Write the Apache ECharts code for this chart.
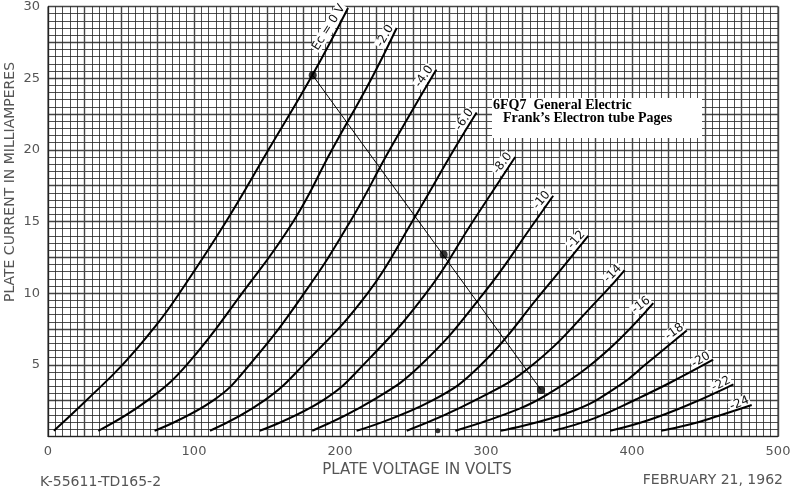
<!DOCTYPE html>
<html><head><meta charset="utf-8">
<script src="https://cdn.jsdelivr.net/npm/echarts@6/dist/echarts.min.js"></script>
<style>html,body{margin:0;padding:0;background:#fff}#c{width:796px;height:490px}</style>
</head><body><div id="c"></div>
<script>
// Tick labels
const xTicks = [0, 100, 200, 300, 400, 500];
const yTicks = [5, 10, 15, 20, 25, 30];
// Grid-voltage curve names
const curveNames = ['Ec = 0 V','-2.0','-4.0','-6.0','-8.0','-10','-12','-14','-16','-18','-20','-22','-24'];
// Plate voltage (V) / plate current (mA) per curve
const v0   = [4, 26, 51, 74, 90, 122, 151, 181, 205.5];
const i0   = [0.4, 2.5, 5, 7.75, 10, 15, 20, 25.2, 29.9];
const v2   = [34.5, 68, 95, 133, 168, 194.5, 221.7, 238.8];
const i2   = [0.4, 2.5, 5, 10, 15, 20, 25, 28.5];
const v4   = [73, 113, 138, 175.5, 207, 234, 266];
const i4   = [0.4, 2.5, 5, 10, 15, 20, 25.6];
const v6   = [111, 148, 175, 219, 249.5, 278, 293.6];
const i6   = [0.4, 2.5, 5, 10, 15, 20, 22.6];
const v8   = [145, 188, 216, 259, 291, 320];
const i8   = [0.4, 2.5, 5, 10, 15, 19.5];
const v10  = [181, 222, 255.5, 298.5, 333.6, 346];
const i10  = [0.4, 2.5, 5, 10, 15, 16.8];
const v12  = [211.4, 263, 296.6, 338, 370];
const i12  = [0.4, 2.5, 5, 10, 14];
const v14  = [245.7, 292, 332, 381, 395];
const i14  = [0.4, 2.5, 5, 10, 11.6];
const v16  = [279, 323, 346, 369, 392, 414.6];
const i16  = [0.4, 1.94, 3.18, 4.78, 6.84, 9.3];
const v18  = [310, 360, 392, 409, 437.5];
const i18  = [0.4, 1.8, 3.6, 5, 7.4];
const v20  = [346, 375, 403, 426, 455.6];
const i20  = [0.4, 1.3, 2.6, 3.75, 5.36];
const v22  = [385, 410, 437.5, 469.5];
const i22  = [0.4, 1.1, 2.16, 3.64];
const v24  = [420, 440, 460, 482];
const i24  = [0.4, 0.85, 1.47, 2.2];
// Load line and operating points
const loadV = [181.3, 337.7];
const loadI = [25.2, 3.25];
const dotV  = [181.3, 271, 337.7];
const dotI  = [25.2, 12.7, 3.25];
const smallDotV = [267];
const smallDotI = [0.4];

const curvesV = [v0,v2,v4,v6,v8,v10,v12,v14,v16,v18,v20,v22,v24];
const curvesI = [i0,i2,i4,i6,i8,i10,i12,i14,i16,i18,i20,i22,i24];
const labelRot = [58, 60, 55, 55, 52, 50, 48, 45, 38, 35, 30, 27, 22];
const zip = (a, b) => a.map((x, k) => [x, b[k]]);

const series = curvesV.map((vs, k) => {
  const data = zip(vs, curvesI[k]);
  return {
    type: 'line', name: curveNames[k], data, smooth: 0.45,
    symbol: 'none', lineStyle: {color: '#000', width: 2}, z: 5,
    markPoint: {
      symbol: 'circle', symbolSize: 0, silent: true,
      data: [{coord: data[data.length - 1]}],
      label: {
        show: true, formatter: curveNames[k], position: 'inside',
        align: 'right', verticalAlign: 'bottom', rotate: labelRot[k],
        fontFamily: 'DejaVu Sans', fontSize: 12, color: '#111',
        backgroundColor: '#fff', padding: [0, 1, 0, 1]
      }
    }
  };
});
series.push({
  type: 'line', data: zip(loadV, loadI), symbol: 'none',
  lineStyle: {color: '#000', width: 1}, z: 6
});
series.push({
  type: 'scatter', data: zip(dotV, dotI), symbolSize: 8,
  itemStyle: {color: '#000'}, z: 7
});
series.push({
  type: 'scatter', data: zip(smallDotV, smallDotI), symbolSize: 5,
  itemStyle: {color: '#000'}, z: 7
});

const chart = echarts.init(document.getElementById('c'), null, {renderer: 'canvas'});
chart.setOption({
  animation: false,
  backgroundColor: '#fff',
  grid: {left: 48, right: 18, top: -2, bottom: 53.5, show: true, borderColor: '#222', borderWidth: 1},
  xAxis: {
    type: 'value', min: 0, max: 500, interval: 25,
    axisLine: {show: true, lineStyle: {color: '#222', width: 1}},
    axisTick: {show: false},
    minorTick: {show: true, splitNumber: 5, length: 0},
    axisLabel: {
      formatter: v => xTicks.includes(v) ? String(v) : '',
      color: '#555', fontFamily: 'DejaVu Sans', fontSize: 13, margin: 9
    },
    splitLine: {show: true, lineStyle: {color: '#444', width: 1.4}},
    minorSplitLine: {show: true, lineStyle: {color: '#222', width: 0.8}}
  },
  yAxis: {
    type: 'value', min: 0, max: 30, interval: 2.5,
    axisLine: {show: true, lineStyle: {color: '#222', width: 1}},
    axisTick: {show: false},
    minorTick: {show: true, splitNumber: 5, length: 0},
    axisLabel: {
      formatter: v => yTicks.includes(v) ? String(v) : '',
      color: '#555', fontFamily: 'DejaVu Sans', fontSize: 13, margin: 8
    },
    splitLine: {show: true, lineStyle: {color: '#444', width: 1.4}},
    minorSplitLine: {show: true, lineStyle: {color: '#222', width: 0.8}}
  },
  series,
  graphic: [
    {type: 'text', x: 10, y: 182, rotation: Math.PI / 2, z: 10,
     style: {text: 'PLATE CURRENT IN MILLIAMPERES', fontFamily: 'DejaVu Sans', fontSize: 14, fill: '#555', align: 'center', verticalAlign: 'middle'}},
    {type: 'text', x: 417, y: 470, z: 10,
     style: {text: 'PLATE VOLTAGE IN VOLTS', fontFamily: 'DejaVu Sans', fontSize: 15, fill: '#555', align: 'center', verticalAlign: 'middle'}},
    {type: 'text', x: 40, y: 482, z: 10,
     style: {text: 'K-55611-TD165-2', fontFamily: 'DejaVu Sans', fontSize: 14, fill: '#555', align: 'left', verticalAlign: 'middle'}},
    {type: 'text', x: 783, y: 480, z: 10,
     style: {text: 'FEBRUARY 21, 1962', fontFamily: 'DejaVu Sans', fontSize: 14, fill: '#555', align: 'right', verticalAlign: 'middle'}},
    {type: 'rect', z: 10, shape: {x: 492, y: 98, width: 210, height: 40}, style: {fill: '#fff'}},
    {type: 'text', x: 493, y: 105, z: 11,
     style: {text: '6FQ7  General Electric', fontFamily: 'Liberation Serif', fontWeight: 'bold', fontSize: 14, fill: '#000', align: 'left', verticalAlign: 'middle'}},
    {type: 'text', x: 503, y: 118, z: 11,
     style: {text: 'Frank’s Electron tube Pages', fontFamily: 'Liberation Serif', fontWeight: 'bold', fontSize: 14, fill: '#000', align: 'left', verticalAlign: 'middle'}}
  ]
});
</script></body></html>
